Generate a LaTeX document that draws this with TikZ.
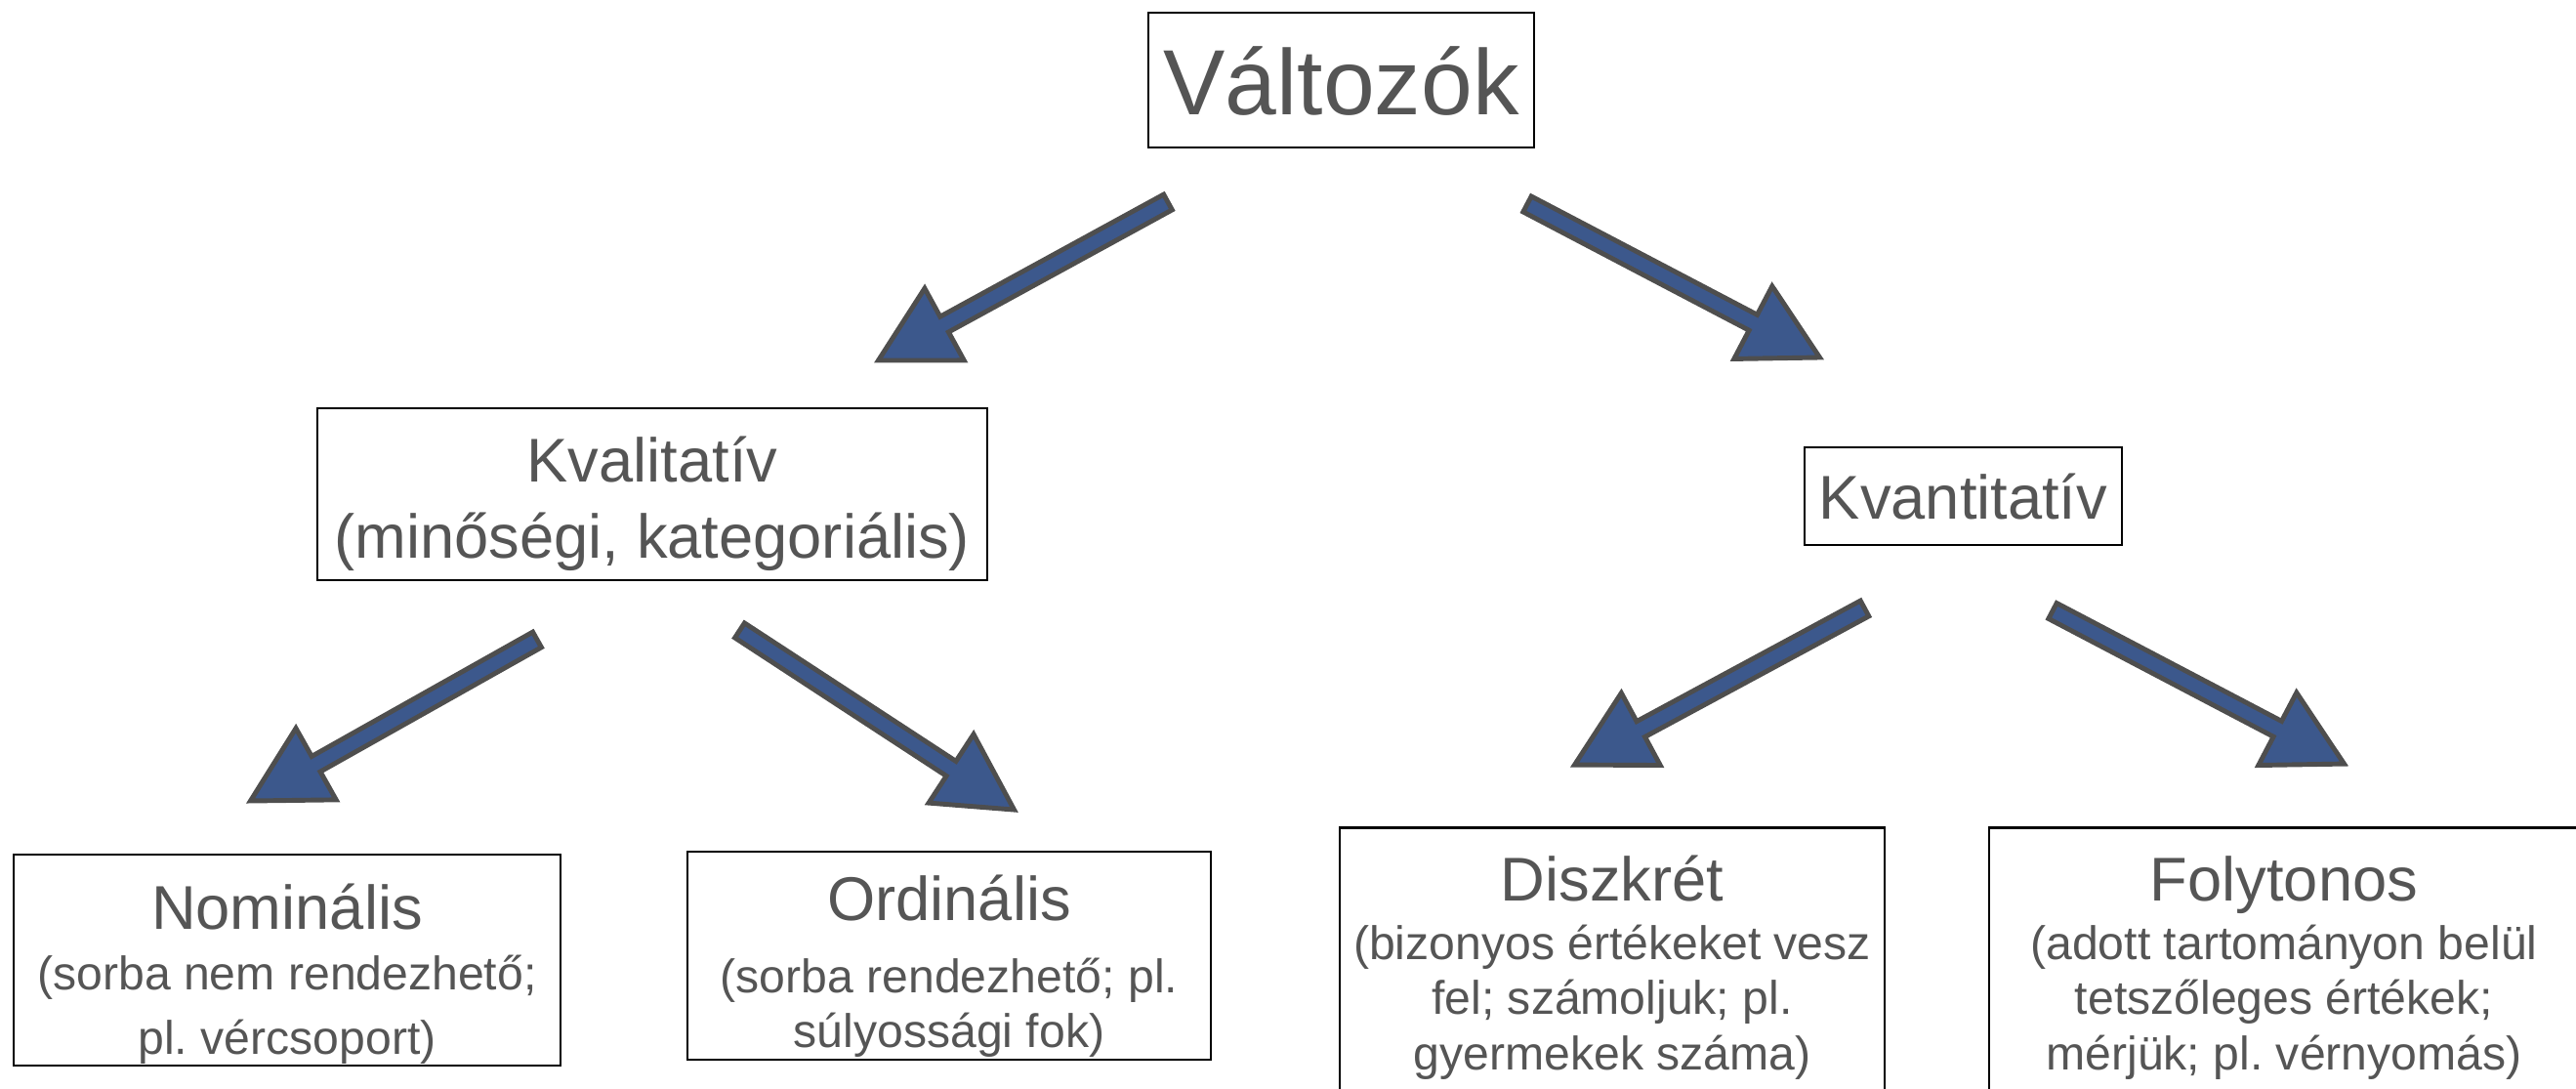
\documentclass[tikz,border=0pt]{standalone}
\usepackage{fontspec}
\setmainfont{Liberation Sans}
\usetikzlibrary{calc}
\frenchspacing

\definecolor{textgray}{RGB}{85,85,85}
\definecolor{arrowblue}{RGB}{60,88,140}
\definecolor{arrowgray}{RGB}{78,78,78}

\newcommand{\toppad}[1]{\rule{0pt}{#1}}
\newcommand{\botpad}[1]{\rule[-#1]{0pt}{#1}}
\newcommand{\titlefont}{\fontsize{18}{18}\selectfont}

\tikzset{
  varbox/.style={draw=black,line width=0.8pt,inner sep=0pt,outer sep=0pt,align=center,text=textgray},
  blockarrow/.style={draw=arrowgray,fill=arrowblue,line width=1.4pt,line join=miter,
    to path={($(\tikztotarget)!0.77cm!(\tikztostart)$) coordinate (ab)
      ($(\tikztostart)!0.09cm!90:(\tikztotarget)$)
      -- ($(ab)!0.09cm!-90:(\tikztostart)$)
      -- ($(ab)!0.42cm!-90:(\tikztostart)$)
      -- (\tikztotarget)
      -- ($(ab)!0.42cm!90:(\tikztostart)$)
      -- ($(ab)!0.09cm!90:(\tikztostart)$)
      -- ($(\tikztostart)!0.09cm!-90:(\tikztotarget)$)
      -- cycle}}
}

\begin{document}
\begin{tikzpicture}
        \useasboundingbox (0,0) rectangle (26.38,-11.15);
        \clip (0,0) rectangle (26.38,-11.15);

        \node[varbox,minimum width=3.95cm,font=\fontsize{27}{30}\selectfont] (var) at (13.735,-0.82)
            {\toppad{1.05cm}Változók\botpad{0.33cm}};
        \node[varbox,minimum width=6.86cm,font=\fontsize{18}{22.46}\selectfont] (kval) at (6.68,-5.06)
            {\toppad{0.75cm}Kvalitatív\\(minőségi, kategoriális)\botpad{0.22cm}};
        \node[varbox,minimum width=3.25cm,font=\fontsize{18}{22}\selectfont] (kvant) at (20.105,-5.08)
            {\toppad{0.74cm}Kvantitatív\botpad{0.26cm}};

        \node[varbox,minimum width=5.60cm,font=\fontsize{13.7}{19.06}\selectfont] (nom) at (2.94,-9.83)
            {\toppad{0.76cm}{\titlefont Nominális}\\[-0.05cm](sorba nem rendezhető;\\pl. vércsoport)\botpad{0.11cm}};
        \node[varbox,minimum width=5.36cm,font=\fontsize{13.7}{16.2}\selectfont] (ord) at (9.72,-9.785)
            {\toppad{0.70cm}{\titlefont Ordinális}\\[0.17cm](sorba rendezhető; pl.\\súlyossági fok)\botpad{0.12cm}};
        \node[varbox,minimum width=5.58cm,font=\fontsize{13.7}{16.2}\selectfont] (disz) at (16.51,-9.915)
            {\toppad{0.75cm}{\titlefont Diszkrét}\\[0.03cm](bizonyos értékeket vesz\\fel; számoljuk; pl.\\gyermekek száma)\botpad{0.40cm}};
        \node[varbox,minimum width=6.04cm,font=\fontsize{13.7}{16.2}\selectfont] (foly) at (23.39,-9.915)
            {\toppad{0.75cm}{\titlefont Folytonos}\\[0.03cm](adott tartományon belül\\tetszőleges értékek;\\mérjük; pl. vérnyomás)\botpad{0.40cm}};

        \coordinate (a1s) at ($(var.south)+(-1.775,-0.56)$);
        \coordinate (a1e) at ($(kval.north)+(2.315,0.49)$);
        \coordinate (a2s) at ($(var.south)+(1.905,-0.58)$);
        \coordinate (a2e) at ($(kvant.north)+(-1.47,0.92)$);
        \coordinate (a3s) at ($(kval.south)+(-1.18,-0.61)$);
        \coordinate (a3e) at ($(nom.north)+(-0.375,0.55)$);
        \coordinate (a4s) at ($(kval.south)+(0.895,-0.515)$);
        \coordinate (a4e) at ($(ord.north)+(0.665,0.43)$);
        \coordinate (a5s) at ($(kvant.south)+(-1.01,-0.65)$);
        \coordinate (a5e) at ($(disz.north)+(-0.385,0.64)$);
        \coordinate (a6s) at ($(kvant.south)+(0.915,-0.675)$);
        \coordinate (a6e) at ($(foly.north)+(0.615,0.65)$);

        \draw[blockarrow] (a1s) to (a1e);
        \draw[blockarrow] (a2s) to (a2e);
        \draw[blockarrow] (a3s) to (a3e);
        \draw[blockarrow] (a4s) to (a4e);
        \draw[blockarrow] (a5s) to (a5e);
        \draw[blockarrow] (a6s) to (a6e);
\end{tikzpicture}
\end{document}
